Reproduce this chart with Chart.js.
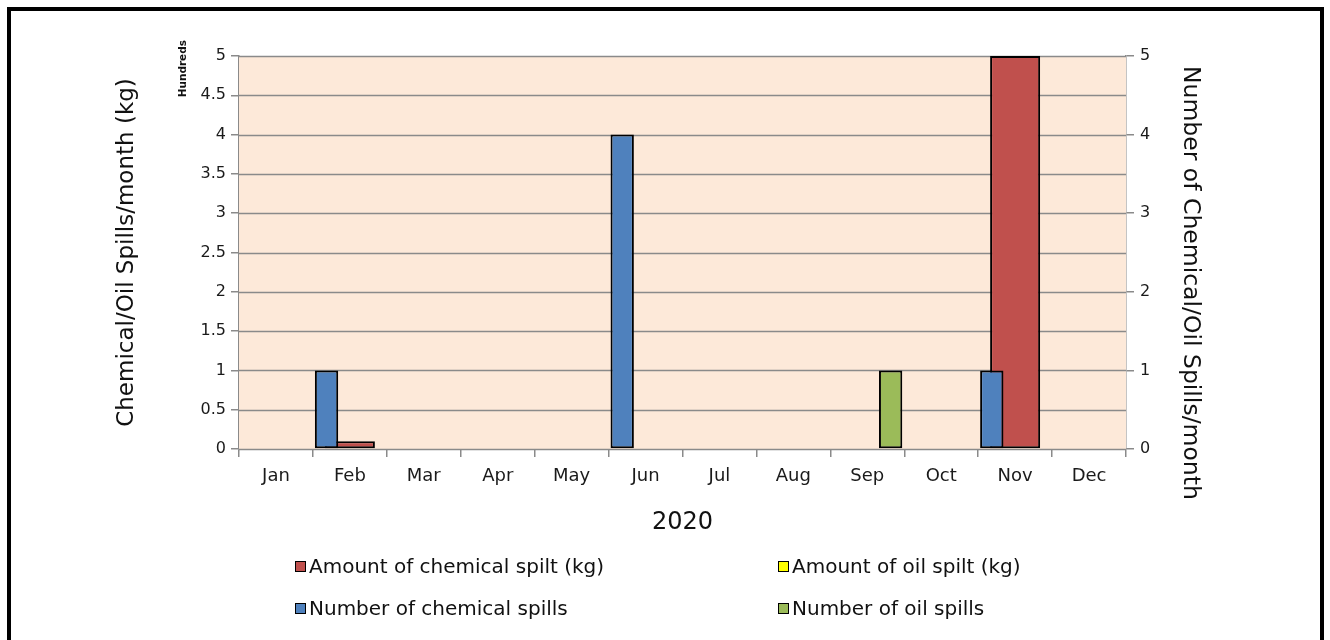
<!DOCTYPE html>
<html>
<head>
<meta charset="utf-8">
<script src="https://cdn.jsdelivr.net/npm/chart.js@4.4.0/dist/chart.umd.min.js"></script>
<style>
  html, body { margin: 0; padding: 0; background: #fff; }
  #wrap { position: relative; width: 1330px; height: 640px; overflow: hidden; font-family: "DejaVu Sans", Verdana, sans-serif; }
  #frame { position: absolute; left: 7px; top: 7px; width: 1309px; height: 700px; border: 4px solid #000; }
  #spillChart { position: absolute; left: 0; top: 0; }
  .legend-item { position: absolute; display: flex; align-items: center; font-size: 20px; color: #111; white-space: nowrap; line-height: 1; }
  .legend-item span.box { width: 9px; height: 9px; border: 1.5px solid #000; margin-right: 3px; }
</style>
</head>
<body>
<div id="wrap">
  <div id="frame"></div>
  <canvas id="spillChart" width="1330" height="640"></canvas>
  <div id="legend"></div>
</div>
<script>
// =================== DATA ===================
const months = ["Jan","Feb","Mar","Apr","May","Jun","Jul","Aug","Sep","Oct","Nov","Dec"];
const chemicalKg    = [0, 10, 0, 0, 0, 1, 0, 0, 1, 0, 500, 0];
const oilKg         = [0, 0, 0, 0, 0, 0, 0, 0, 0, 0, 0, 0];
const chemicalCount = [0, 1, 0, 0, 0, 4, 0, 0, 0, 0, 1, 0];
const oilCount      = [0, 0, 0, 0, 0, 0, 0, 0, 1, 0, 0, 0];

const GRID = "#8a8a8a";
const TICK_TXT = "#1a1a1a";
const FONT = "'DejaVu Sans', Verdana, sans-serif";

// chemical kg is a wide bar centred on the month (not grouped),
// the other three sit side by side in front of it on the count axis
const datasets = [
  { label: "Amount of chemical spilt (kg)", data: chemicalKg, backgroundColor: "#c0504d",
    yAxisID: "y", order: 4, grouped: false, categoryPercentage: 0.677, barPercentage: 1 },
  { label: "Amount of oil spilt (kg)", data: oilKg, backgroundColor: "#ffff00",
    yAxisID: "y2", order: 2, categoryPercentage: 0.947, barPercentage: 1 },
  { label: "Number of chemical spills", data: chemicalCount, backgroundColor: "#4f81bd",
    yAxisID: "y2", order: 1, categoryPercentage: 0.947, barPercentage: 1 },
  { label: "Number of oil spills", data: oilCount, backgroundColor: "#9bbb59",
    yAxisID: "y2", order: 3, categoryPercentage: 0.947, barPercentage: 1 }
];
datasets.forEach(d => { d.borderColor = "#000"; d.borderWidth = 2; d.borderSkipped = false; });

// peach plot background + the extra axis texts
const decor = {
  id: "decor",
  beforeDatasetsDraw(chart) {
    const a = chart.chartArea, ctx = chart.ctx;
    ctx.save();
    ctx.fillStyle = "#fde9d9";
    ctx.fillRect(a.left, a.top, a.right - a.left, a.bottom - a.top);
    // horizontal grid lines over the fill
    const y = chart.scales.y;
    ctx.strokeStyle = GRID;
    ctx.lineWidth = 1.5;
    y.ticks.forEach((t, i) => {
      const py = Math.round(y.getPixelForTick(i)) + 0.5;
      ctx.beginPath(); ctx.moveTo(a.left, py); ctx.lineTo(a.right, py); ctx.stroke();
    });
    ctx.restore();
  },
  afterDraw(chart) {
    const ctx = chart.ctx;
    ctx.save();
    ctx.fillStyle = "#111";
    ctx.textBaseline = "middle";
    // units marker beside the kg axis
    ctx.translate(183, 40);
    ctx.rotate(-Math.PI / 2);
    ctx.textAlign = "right";
    ctx.font = "bold 10.5px " + FONT;
    ctx.fillText("Hundreds", 0, 0);
    ctx.restore();

    ctx.save();
    ctx.fillStyle = "#111";
    ctx.textBaseline = "middle";
    ctx.translate(1190, 66);
    ctx.rotate(Math.PI / 2);
    ctx.textAlign = "left";
    ctx.font = "23.5px " + FONT;
    ctx.fillText("Number of Chemical/Oil Spills/month", 0, 0);
    ctx.restore();
  }
};

const chart = new Chart(document.getElementById("spillChart"), {
  type: "bar",
  data: { labels: months, datasets: datasets },
  options: {
    responsive: false,
    animation: false,
    layout: { padding: { left: 109, right: 100, top: 56, bottom: 99 } },
    plugins: { legend: { display: false }, tooltip: { enabled: false } },
    scales: {
      x: {
        type: "category", offset: true,
        grid: { offset: true, drawOnChartArea: false, color: GRID, lineWidth: 1.5, tickLength: 8 },
        border: { color: GRID, width: 1.5 },
        ticks: { color: TICK_TXT, font: { family: FONT, size: 18 }, padding: 9 },
        title: { display: true, text: "2020", color: "#111", font: { family: FONT, size: 24 } },
        afterFit(s) { s.height = 92; }
      },
      y: {
        position: "left", min: 0, max: 500,
        grid: { color: GRID, lineWidth: 1.5, tickLength: 8, drawOnChartArea: false },
        border: { color: GRID, width: 1.5 },
        ticks: { stepSize: 50, color: TICK_TXT, font: { family: FONT, size: 16 }, padding: 5,
                 callback: v => String(v / 100) },
        title: { display: true, text: "Chemical/Oil Spills/month (kg)", color: "#111", font: { family: FONT, size: 23 } },
        afterFit(s) { s.width = 130; }
      },
      y2: {
        position: "right", min: 0, max: 5,
        grid: { drawOnChartArea: false, color: GRID, lineWidth: 1.5, tickLength: 8 },
        border: { color: GRID, width: 1.5 },
        ticks: { stepSize: 1, color: TICK_TXT, font: { family: FONT, size: 16 }, padding: 6 },
        afterFit(s) { s.width = 104; }
      }
    }
  },
  plugins: [decor]
});

// two-column legend under the axis title
const legendPos = [[295, 566], [778, 566], [295, 608], [778, 608]];
const legendEl = document.getElementById("legend");
datasets.forEach((d, i) => {
  const item = document.createElement("div");
  item.className = "legend-item";
  item.style.left = legendPos[i][0] + "px";
  item.style.top = (legendPos[i][1] - 10) + "px";
  item.innerHTML = '<span class="box" style="background:' + d.backgroundColor + '"></span>' + d.label;
  legendEl.appendChild(item);
});
</script>
</body>
</html>
